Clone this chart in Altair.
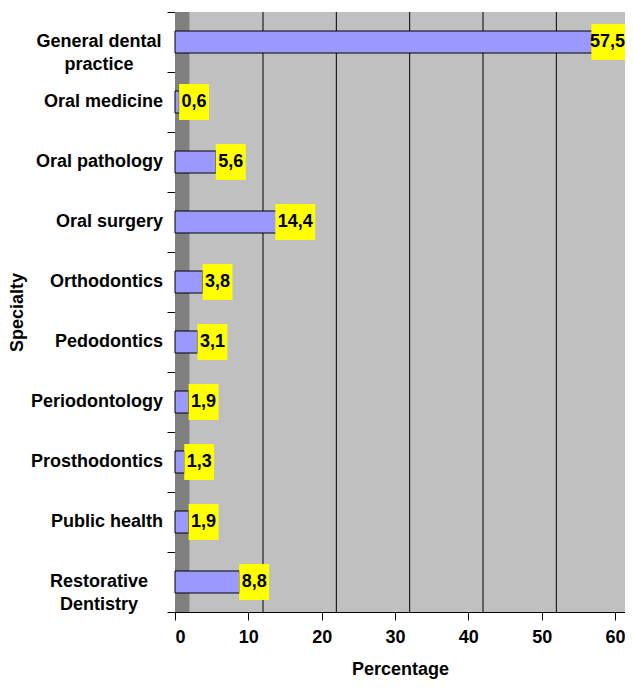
import altair as alt
import pandas as pd
import numpy as np

specialties = ["General dental\npractice", "Oral medicine", "Oral pathology", "Oral surgery",
               "Orthodontics", "Pedodontics", "Periodontology", "Prosthodontics",
               "Public health", "Restorative\nDentistry"]
percent = [57.5, 0.6, 5.6, 14.4, 3.8, 3.1, 1.9, 1.3, 1.9, 8.8]
value_labels = ["57,5", "0,6", "5,6", "14,4", "3,8", "3,1", "1,9", "1,3", "1,9", "8,8"]
x_ticks = [0, 10, 20, 30, 40, 50, 60]
depth = 2  # 3D depth offset of the original chart (in data units)
grid_at = [12, 22, 32, 42, 52]
X_MAX = 61.36

FONT = "Liberation Sans"
FS = 18
PLOT_W, PLOT_H = 450, 600

df = pd.DataFrame({"cat": specialties, "v": percent, "label": value_labels})
df["multi"] = df["cat"].str.contains("\n")
half = df["label"].str.len() * 0.68
df["lo"] = df["v"] + depth - half
df["hi"] = df["v"] + depth + half
# keep the value text readable inside the plot area
df["center"] = np.minimum(df["v"] + depth, X_MAX - df["label"].str.len() * 0.6)

wall_df = pd.DataFrame({"lo": [0], "hi": [depth]})
back_df = pd.DataFrame({"lo": [depth], "hi": [X_MAX]})
grid_df = pd.DataFrame({"g": grid_at})

xscale = alt.Scale(domain=[0, X_MAX], nice=False, zero=False)
ysort = specialties

x_axis = alt.Axis(values=x_ticks, grid=False, domainColor="black", tickColor="black",
                  tickSize=8, labelFontSize=FS, labelFontWeight="bold", labelColor="black",
                  labelPadding=8, title="Percentage", titleFontSize=FS, titleFontWeight="bold",
                  titlePadding=14, titleColor="black", labelFont=FONT, titleFont=FONT)
y_axis = alt.Axis(labels=False, grid=False, domainColor="black", tickColor="black",
                  tickSize=8, tickBand="extent", title="Specialty", titleFontSize=FS,
                  titleFontWeight="bold", titleColor="black", titleX=-158, titleY=300,
                  titleAngle=-90, titleBaseline="middle", titleAlign="center", titleFont=FONT)

back = alt.Chart(back_df).mark_rect(color="#C0C0C0").encode(
    x=alt.X("lo:Q", scale=xscale, axis=x_axis), x2="hi:Q",
    y=alt.value(0), y2=alt.value(PLOT_H))

wall = alt.Chart(wall_df).mark_rect(color="#808080").encode(
    x=alt.X("lo:Q", scale=xscale), x2="hi:Q",
    y=alt.value(0), y2=alt.value(PLOT_H))

grid = alt.Chart(grid_df).mark_rule(color="black", strokeWidth=1).encode(
    x=alt.X("g:Q", scale=xscale), y=alt.value(0), y2=alt.value(PLOT_H))

yenc = alt.Y("cat:N", sort=ysort, axis=y_axis, scale=alt.Scale(paddingInner=0, paddingOuter=0))

bars = alt.Chart(df).mark_bar(height=22, color="#9999FF", stroke="black", strokeWidth=1).encode(
    x=alt.X("v:Q", scale=xscale), y=yenc)

boxes = alt.Chart(df).mark_bar(height=36, color="#FFFF00", clip=True).encode(
    x=alt.X("lo:Q", scale=xscale), x2="hi:Q", y=yenc)

texts = alt.Chart(df).mark_text(fontSize=FS, fontWeight="bold", font=FONT, color="black",
                                align="center", baseline="middle").encode(
    x=alt.X("center:Q", scale=xscale), y=yenc, text="label:N")

ylab_single = alt.Chart(df).transform_filter("!datum.multi").mark_text(
    fontSize=FS, fontWeight="bold", font=FONT, color="black", align="right",
    baseline="middle").encode(x=alt.value(-12), y=yenc, text="cat:N")

ylab_multi = alt.Chart(df).transform_filter("datum.multi").mark_text(
    fontSize=FS, fontWeight="bold", font=FONT, color="black", align="center",
    baseline="middle", lineBreak="\n", lineHeight=23).encode(
    x=alt.value(-76), y=yenc, text="cat:N")

chart = alt.layer(back, wall, grid, bars, boxes, texts, ylab_single, ylab_multi).properties(
    width=PLOT_W, height=PLOT_H,
    autosize=alt.AutoSizeParams(type="none"),
    padding={"left": 167, "top": 4, "right": 0, "bottom": 68},
).configure_view(strokeWidth=0).configure(font=FONT)

chart.save("out.html", embed_options={"renderer": "svg", "actions": False})
